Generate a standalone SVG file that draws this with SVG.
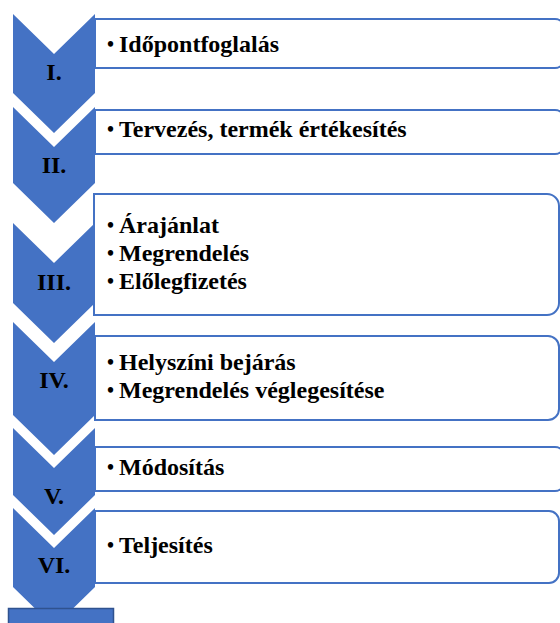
<svg xmlns="http://www.w3.org/2000/svg" width="560" height="623" viewBox="0 0 560 623">
<style>
.chev{fill:#4472C4;}
.box{fill:#FFFFFF;stroke:#4472C4;stroke-width:2;}
.lbl{font-family:"Liberation Serif",serif;font-weight:bold;font-size:24px;fill:#000;text-anchor:middle;}
.txt{font-family:"Liberation Serif",serif;font-weight:bold;font-size:24px;fill:#000;}
.bul{font-family:"Liberation Serif",serif;font-weight:bold;font-size:20px;fill:#000;}
</style>
<rect x="0" y="0" width="560" height="623" fill="#FFFFFF"/>
<g id="chevrons">
<g id="chev1"><polygon class="chev" points="13,14 54,54 95,14 95,93 54,133 13,93"/><text class="lbl" x="54" y="80">I.</text></g>
<g id="chev2"><polygon class="chev" points="13,107 54,147 95,107 95,183 54,223 13,183"/><text class="lbl" x="54" y="173">II.</text></g>
<g id="chev3"><polygon class="chev" points="13,223 54,263 95,223 95,303 54,343 13,303"/><text class="lbl" x="54" y="290">III.</text></g>
<g id="chev4"><polygon class="chev" points="13,322 54,362 95,322 95,415 54,455 13,415"/><text class="lbl" x="54" y="388">IV.</text></g>
<g id="chev5"><polygon class="chev" points="13,428 54,468 95,428 95,495 54,535 13,495"/><text class="lbl" x="54" y="504">V.</text></g>
<g id="chev6"><polygon class="chev" points="13,508 54,548 95,508 95,587 54,627 13,587"/><text class="lbl" x="54" y="573">VI.</text></g>
</g>
<g id="box1"><path class="box" d="M95,19 H555 A10,10 0 0 1 565,29 V58 A10,10 0 0 1 555,68 H95 Z"/><text class="bul" x="107" y="51">•</text><text class="txt" x="119" y="52">Időpontfoglalás</text></g>
<g id="box2"><path class="box" d="M95,110 H555 A10,10 0 0 1 565,120 V144 A10,10 0 0 1 555,154 H95 Z"/><text class="bul" x="107" y="136">•</text><text class="txt" x="119" y="137">Tervezés, termék értékesítés</text></g>
<g id="box3"><path class="box" d="M94,194 H547 A12,12 0 0 1 559,206 V303 A12,12 0 0 1 547,315 H94 Z"/><text class="bul" x="107" y="232">•</text><text class="txt" x="119" y="233">Árajánlat</text><text class="bul" x="107" y="260">•</text><text class="txt" x="119" y="261">Megrendelés</text><text class="bul" x="107" y="288">•</text><text class="txt" x="119" y="289">Előlegfizetés</text></g>
<g id="box4"><path class="box" d="M95,336 H548 A11,11 0 0 1 559,347 V409 A11,11 0 0 1 548,420 H95 Z"/><text class="bul" x="107" y="369">•</text><text class="txt" x="119" y="370">Helyszíni bejárás</text><text class="bul" x="107" y="397">•</text><text class="txt" x="119" y="398">Megrendelés véglegesítése</text></g>
<g id="box5"><path class="box" d="M95,447 H555 A10,10 0 0 1 565,457 V481 A10,10 0 0 1 555,491 H95 Z"/><text class="bul" x="107" y="474">•</text><text class="txt" x="119" y="475">Módosítás</text></g>
<g id="box6"><path class="box" d="M95,511 H549 A10,10 0 0 1 559,521 V573 A10,10 0 0 1 549,583 H95 Z"/><text class="bul" x="107" y="552">•</text><text class="txt" x="119" y="553">Teljesítés</text></g>
<g id="bottom"><rect x="8.5" y="608.5" width="105" height="20" fill="#4472C4" stroke="#2F528F" stroke-width="1.5"/></g>
</svg>
